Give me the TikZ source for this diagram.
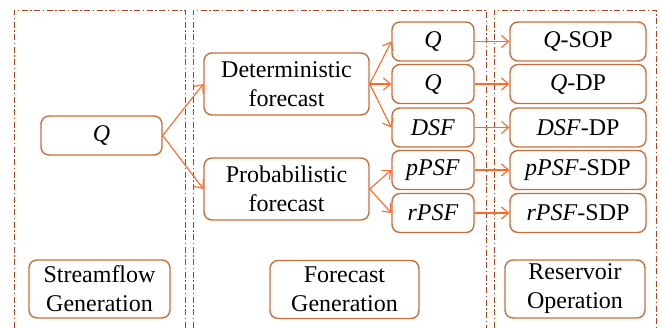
\documentclass[tikz,border=0pt]{standalone}
\usepackage{fontspec}
\setmainfont{Liberation Serif}
\newfontfamily\tms{Liberation Serif}
\usetikzlibrary{arrows.meta}
\definecolor{boxc}{RGB}{200,110,60}
\definecolor{arrc}{RGB}{255,105,35}
\definecolor{framec}{RGB}{175,65,25}
\begin{document}
\begin{tikzpicture}[x=1pt,y=-1pt,
  every node/.style={font=\tms\fontsize{24}{29}\selectfont},
  bx/.style={draw=boxc,line width=1.4pt,rounded corners=8pt,inner sep=0pt,align=center},
  frame/.style={draw=framec,line width=1.0pt,dash pattern=on 6pt off 2.5pt on 1.5pt off 2.5pt},
  arr/.style={draw=arrc,line width=1.1pt,-{Straight Barb[length=7pt,width=12pt,line width=1.1pt]}}]
\useasboundingbox (0,0) rectangle (662,327);
\begin{scope}
\clip (0,0) rectangle (662,327);
\draw[frame] (14,340) -- (14,10) -- (185,10) -- (185,340);
\draw[frame] (193,340) -- (193,10) -- (486,10) -- (486,340);
\draw[frame] (494,340) -- (494,10) -- (656,10) -- (656,340);
\end{scope}
% nodes
\node[bx,minimum width=121pt,minimum height=39pt] (q) at (101.5,135.5) {\textit{Q}};
\node[bx,minimum width=165pt,minimum height=62pt] (det) at (286.5,84) {Deterministic\\forecast};
\node[bx,minimum width=165pt,minimum height=62pt] (prob) at (286.5,189) {Probabilistic\\forecast};
\node[bx,minimum width=82pt,minimum height=39pt] (q1) at (433,41.5) {\textit{Q}};
\node[bx,minimum width=82pt,minimum height=39pt] (q2) at (433,84) {\textit{Q}};
\node[bx,minimum width=82pt,minimum height=39pt] (dsf) at (433,127.5) {\textit{DSF}};
\node[bx,minimum width=82pt,minimum height=39pt] (ppsf) at (433,170) {\textit{pPSF}};
\node[bx,minimum width=82pt,minimum height=39pt] (rpsf) at (433,213) {\textit{rPSF}};
\node[bx,minimum width=136pt,minimum height=39pt] (qsop) at (578,41.5) {\textit{Q}-SOP};
\node[bx,minimum width=136pt,minimum height=39pt] (qdp) at (578,84) {\textit{Q}-DP};
\node[bx,minimum width=136pt,minimum height=39pt] (dsfdp) at (578,127.5) {\textit{DSF}-DP};
\node[bx,minimum width=136pt,minimum height=39pt] (ppsfsdp) at (578,170) {\textit{pPSF}-SDP};
\node[bx,minimum width=136pt,minimum height=39pt] (rpsfsdp) at (578,213) {\textit{rPSF}-SDP};
\node[bx,minimum width=141pt,minimum height=58pt] (sg) at (99.5,289) {Streamflow\\Generation};
\node[bx,minimum width=149pt,minimum height=58pt] (fg) at (344.5,289.5) {Forecast\\Generation};
\node[bx,minimum width=140pt,minimum height=58pt] (ro) at (575,289) {Reservoir\\Operation};
% arrows
\draw[arr] (q.east) -- (det.west);
\draw[arr] (q.east) -- (prob.west);
\draw[arr] (det.east) -- (q1.west);
\draw[arr] (det.east) -- (q2.west);
\draw[arr] (det.east) -- (dsf.west);
\draw[arr] (prob.east) -- (ppsf.west);
\draw[arr] (prob.east) -- (rpsf.west);
\draw[arr] (q1.east) -- (qsop.west);
\draw[arr] (q2.east) -- (qdp.west);
\draw[arr] (dsf.east) -- (dsfdp.west);
\draw[arr] (ppsf.east) -- (ppsfsdp.west);
\draw[arr] (rpsf.east) -- (rpsfsdp.west);
\end{tikzpicture}
\end{document}
